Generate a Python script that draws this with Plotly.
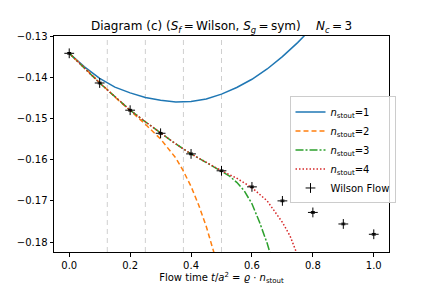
import plotly.graph_objects as go

# Wilson flow reference points
wf_t = [0.0, 0.1, 0.2, 0.3, 0.4, 0.5, 0.6, 0.7, 0.8, 0.9, 1.0]
wf_val = [-0.1342, -0.1414, -0.1480, -0.1536, -0.1586, -0.1627, -0.1666, -0.1700, -0.1728, -0.1756, -0.1781]
wf_err = [0.0002, 0.0002, 0.0002, 0.0002, 0.0002, 0.0002, 0.0002, 0.0002, 0.0002, 0.0002, 0.0002]

# n_stout = 1
s1_t = [0.0, 0.05, 0.1, 0.15, 0.2, 0.25, 0.3, 0.35, 0.4, 0.45, 0.5, 0.55, 0.6, 0.65, 0.7, 0.75, 0.8]
s1_val = [-0.1342, -0.1375, -0.1403, -0.1424, -0.1438, -0.1449, -0.1456, -0.1460, -0.1459, -0.1453, -0.1441,
          -0.1425, -0.1405, -0.1380, -0.1350, -0.1316, -0.1278]

# n_stout = 2
s2_t = [0.0, 0.05, 0.1, 0.15, 0.2, 0.25, 0.3, 0.35, 0.375, 0.4, 0.425, 0.45, 0.475, 0.5]
s2_val = [-0.1342, -0.1378, -0.1414, -0.1448, -0.1481, -0.1514, -0.1550, -0.1596, -0.1628, -0.1665,
          -0.1710, -0.1762, -0.1825, -0.1900]

# n_stout = 3
s3_t = [0.0, 0.05, 0.1, 0.15, 0.2, 0.25, 0.3, 0.35, 0.4, 0.45, 0.5, 0.525, 0.55, 0.575, 0.6, 0.625, 0.65, 0.675]
s3_val = [-0.1342, -0.1378, -0.1414, -0.1447, -0.1480, -0.1508, -0.1536, -0.1562, -0.1586, -0.1607, -0.1627,
          -0.1639, -0.1655, -0.1676, -0.1707, -0.1752, -0.1803, -0.1865]

# n_stout = 4
s4_t = [0.0, 0.05, 0.1, 0.15, 0.2, 0.25, 0.3, 0.35, 0.4, 0.45, 0.5, 0.55, 0.6, 0.65, 0.7, 0.725, 0.75, 0.775]
s4_val = [-0.1342, -0.1378, -0.1414, -0.1447, -0.1480, -0.1508, -0.1536, -0.1562, -0.1586, -0.1607, -0.1627,
          -0.1645, -0.1668, -0.1700, -0.1752, -0.1785, -0.1828, -0.1880]

vlines = [0.125, 0.25, 0.375, 0.5]

x_ticks = [0.0, 0.2, 0.4, 0.6, 0.8, 1.0]
x_ticklabels = ["0.0", "0.2", "0.4", "0.6", "0.8", "1.0"]
y_ticks = [-0.18, -0.17, -0.16, -0.15, -0.14, -0.13]
y_ticklabels = ["\u22120.18", "\u22120.17", "\u22120.16", "\u22120.15", "\u22120.14", "\u22120.13"]

FONT = "DejaVu Sans"

fig = go.Figure()

fig.add_trace(go.Scatter(x=s1_t, y=s1_val, mode="lines", name="<i>n</i><sub>stout</sub>=1",
                         line=dict(color="#1f77b4", width=1.5)))
fig.add_trace(go.Scatter(x=s2_t, y=s2_val, mode="lines", name="<i>n</i><sub>stout</sub>=2",
                         line=dict(color="#ff7f0e", width=1.5, dash="5px,3px")))
fig.add_trace(go.Scatter(x=s3_t, y=s3_val, mode="lines", name="<i>n</i><sub>stout</sub>=3",
                         line=dict(color="#2ca02c", width=1.5, dash="8px,2px,2px,2px")))
fig.add_trace(go.Scatter(x=s4_t, y=s4_val, mode="lines", name="<i>n</i><sub>stout</sub>=4",
                         line=dict(color="#d62728", width=1.5, dash="1.5px,2px")))
fig.add_trace(go.Scatter(x=wf_t, y=wf_val, mode="markers", name="Wilson Flow",
                         marker=dict(symbol="cross-thin", size=7, color="black",
                                     line=dict(color="black", width=1)),
                         error_y=dict(type="data", array=wf_err, color="black", thickness=1, width=2)))

for v in vlines:
    fig.add_shape(type="line", xref="x", yref="paper", x0=v, x1=v, y0=0, y1=1,
                  line=dict(color="rgba(160,160,160,0.5)", width=1, dash="5px,4px"), layer="below")

fig.update_layout(
    width=432, height=288,
    margin=dict(l=54, r=43, t=36, b=36, autoexpand=False),
    paper_bgcolor="white", plot_bgcolor="white",
    font=dict(family=FONT, size=10, color="black"),
    title=dict(text="Diagram (c) (<i>S</i><sub><i>f</i></sub>\u2009=\u2009Wilson, <i>S</i><sub><i>g</i></sub>\u2009=\u2009sym)\u00a0\u00a0\u00a0\u00a0<i>N</i><sub><i>c</i></sub>\u2009=\u20093",
               x=0.5, xref="paper", xanchor="center", y=1, yref="paper", yanchor="bottom",
               pad=dict(b=6), font=dict(family=FONT, size=12, color="black")),
    showlegend=True,
    legend=dict(x=0.703, y=0.72, xanchor="left", yanchor="top",
                bgcolor="rgba(255,255,255,0.8)", bordercolor="#cccccc", borderwidth=1,
                itemwidth=30, tracegroupgap=0,
                font=dict(family=FONT, size=10, color="black")),
)

fig.update_xaxes(range=[-0.05, 1.05], tickvals=x_ticks, ticktext=x_ticklabels,
                 showgrid=False, zeroline=False, showline=True, mirror=True, automargin=False,
                 linecolor="black", linewidth=1, ticks="outside", ticklen=3.5,
                 tickcolor="black", tickwidth=1,
                 title=dict(text="Flow time <i>t</i>/<i>a</i><sup>2</sup> = <i>\u03f1</i> \u00b7 <i>n</i><sub>stout</sub>",
                            font=dict(family=FONT, size=10), standoff=4))
fig.update_yaxes(range=[-0.1824, -0.13], tickvals=y_ticks, ticktext=y_ticklabels,
                 showgrid=False, zeroline=False, showline=True, mirror=True, automargin=False,
                 linecolor="black", linewidth=1, ticks="outside", ticklen=3.5,
                 tickcolor="black", tickwidth=1)

fig.write_html("out.html", config={"displayModeBar": False},
               post_script="document.body.style.margin='0';")
